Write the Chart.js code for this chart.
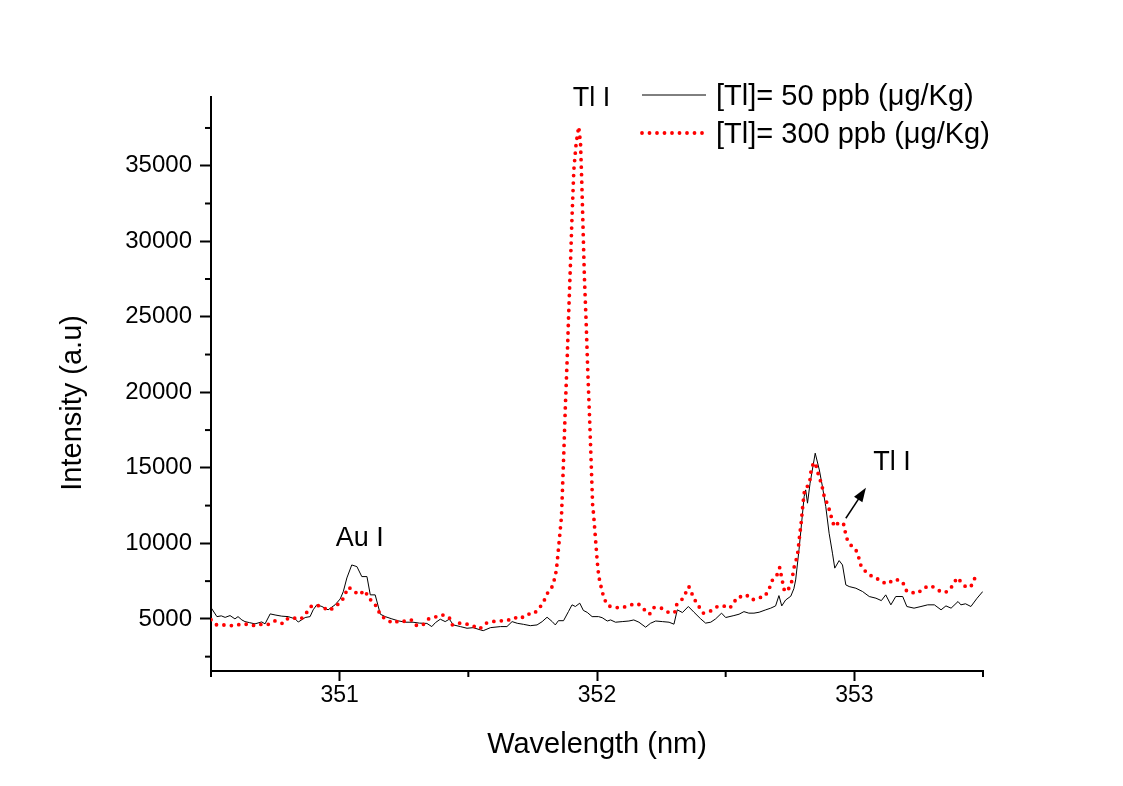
<!DOCTYPE html>
<html>
<head>
<meta charset="utf-8">
<script src="https://cdn.jsdelivr.net/npm/chart.js@4"></script>
<style>
  html, body { margin: 0; padding: 0; background: #fff; }
  canvas { display: block; }
</style>
</head>
<body>
<canvas id="chart" width="1123" height="786"></canvas>
<script>
/* globals Chart */

// [Tl]= 50 ppb, black solid line
var wl50 = [
  350.500, 350.523, 350.540, 350.555, 350.574, 350.593, 350.605, 350.620, 350.632, 350.650,
  350.671, 350.697, 350.710, 350.730, 350.749, 350.775, 350.800, 350.827, 350.839, 350.866,
  350.885, 350.897, 350.911, 350.931, 350.955, 350.982, 351.002, 351.014, 351.028, 351.047,
  351.067, 351.086, 351.106, 351.119, 351.138, 351.158, 351.177, 351.203, 351.228, 351.255,
  351.285, 351.310, 351.339, 351.358, 351.372, 351.391, 351.410, 351.426, 351.442, 351.469,
  351.495, 351.519, 351.547, 351.558, 351.586, 351.625, 351.650, 351.670, 351.690, 351.714,
  351.741, 351.767, 351.787, 351.806, 351.826, 351.838, 351.850, 351.870, 351.889, 351.903,
  351.916, 351.933, 351.947, 351.962, 351.981, 352.006, 352.020, 352.040, 352.053, 352.072,
  352.098, 352.124, 352.143, 352.163, 352.189, 352.208, 352.228, 352.254, 352.280, 352.299,
  352.312, 352.332, 352.355, 352.377, 352.403, 352.422, 352.442, 352.461, 352.484, 352.500,
  352.532, 352.552, 352.571, 352.590, 352.610, 352.630, 352.656, 352.675, 352.694, 352.707,
  352.718, 352.733, 352.753, 352.765, 352.772, 352.785, 352.795, 352.805, 352.811, 352.818,
  352.828, 352.848, 352.864, 352.876, 352.889, 352.902, 352.915, 352.924, 352.941, 352.954,
  352.967, 352.980, 353.006, 353.032, 353.058, 353.084, 353.105, 353.122, 353.142, 353.161,
  353.188, 353.204, 353.232, 353.259, 353.285, 353.311, 353.337, 353.356, 353.376, 353.403,
  353.414, 353.432, 353.453, 353.477, 353.499
]
var int50 = [
  5750, 5150, 5200, 5100, 5220, 5000, 5150, 4930, 4820, 4750,
  4670, 4800, 4670, 5330, 5260, 5180, 5150, 5000, 4790, 5090,
  5150, 5600, 5930, 5820, 5600, 5930, 6320, 6800, 7710, 8570,
  8460, 7800, 7800, 6590, 6590, 5310, 5150, 5000, 4870, 4780,
  4780, 4720, 4700, 4490, 4750, 4980, 4820, 4980, 4600, 4490,
  4380, 4420, 4270, 4220, 4420, 4490, 4490, 4820, 4710, 4640,
  4550, 4600, 4820, 5110, 4820, 4600, 4880, 4880, 5480, 5930,
  5820, 6040, 5560, 5430, 5150, 5150, 5080, 4860, 4930, 4780,
  4820, 4860, 4930, 4780, 4450, 4710, 4860, 4820, 4780, 4650,
  5600, 5420, 5820, 5440, 5000, 4720, 4780, 5000, 5380, 5090,
  5220, 5310, 5480, 5380, 5380, 5440, 5600, 5710, 5860, 6540,
  5860, 6250, 6500, 7000, 7580, 9570, 11340, 13100, 13540, 12660,
  13980, 15970, 14860, 13760, 12430, 10670, 9350, 8360, 8860, 8570,
  7250, 7140, 7030, 6810, 6480, 6370, 6210, 6590, 5930, 6480,
  6480, 5820, 5710, 5820, 5930, 5930, 5600, 5860, 5710, 6150,
  5930, 6000, 5820, 6370, 6810
]

// [Tl]= 300 ppb, red dotted line
var wl300 = [
  350.500, 350.522, 350.548, 350.574, 350.597, 350.617, 350.645, 350.674, 350.700, 350.723,
  350.749, 350.779, 350.800, 350.824, 350.850, 350.870, 350.889, 350.909, 350.935, 350.960,
  350.986, 351.009, 351.021, 351.034, 351.054, 351.073, 351.099, 351.112, 351.132, 351.145,
  351.158, 351.177, 351.207, 351.235, 351.259, 351.281, 351.300, 351.326, 351.346, 351.369,
  351.398, 351.426, 351.437, 351.462, 351.488, 351.514, 351.544, 351.570, 351.592, 351.622,
  351.651, 351.679, 351.702, 351.726, 351.754, 351.776, 351.793, 351.806, 351.826, 351.835,
  351.841, 351.845, 351.862, 351.871, 351.877, 351.884, 351.890, 351.897, 351.903, 351.910,
  351.919, 351.929, 351.936, 351.941, 351.946, 351.951, 351.958, 351.964, 351.971, 351.977,
  351.983, 351.987, 352.001, 352.007, 352.020, 352.030, 352.044, 352.072, 352.100, 352.130,
  352.160, 352.182, 352.204, 352.221, 352.250, 352.277, 352.302, 352.309, 352.329, 352.344,
  352.357, 352.368, 352.380, 352.396, 352.413, 352.442, 352.468, 352.491, 352.516, 352.532,
  352.545, 352.565, 352.580, 352.604, 352.627, 352.649, 352.666, 352.682, 352.697, 352.710,
  352.722, 352.729, 352.742, 352.755, 352.765, 352.774, 352.781, 352.787, 352.794, 352.800,
  352.807, 352.817, 352.826, 352.833, 352.843, 352.849, 352.858, 352.868, 352.877, 352.883,
  352.894, 352.903, 352.912, 352.922, 352.941, 352.958, 352.970, 352.989, 353.006, 353.016,
  353.025, 353.038, 353.058, 353.084, 353.103, 353.129, 353.155, 353.181, 353.191, 353.204,
  353.224, 353.246, 353.272, 353.298, 353.320, 353.343, 353.363, 353.382, 353.399, 353.414,
  353.434, 353.453, 353.466, 353.480
]
var int300 = [
  4950, 4600, 4600, 4560, 4560, 4660, 4640, 4540, 4660, 4640,
  4870, 4690, 5050, 5050, 5000, 5380, 5820, 5930, 5750, 5550,
  5860, 6190, 6640, 7100, 6880, 6590, 6880, 6370, 6110, 5750,
  5270, 5000, 4720, 4890, 4820, 4930, 4540, 4640, 5000, 5110,
  5270, 5090, 4600, 4720, 4680, 4560, 4340, 4720, 4820, 4870,
  4890, 5090, 5000, 5310, 5330, 5710, 6150, 6660, 7140, 7650,
  8130, 8690, 11770, 15970, 19050, 22140, 25240, 28550, 31630, 34720,
  36490, 37590, 36490, 33840, 30750, 27660, 24570, 21480, 18390, 15530,
  12550, 11880, 8790, 7800, 6810, 6260, 5860, 5750, 5750, 5930,
  6000, 5640, 5310, 5750, 5710, 5440, 5420, 5930, 6260, 6700,
  7140, 6700, 6260, 5820, 5380, 5530, 5820, 5860, 5710, 6080,
  6440, 6480, 6590, 6260, 6410, 6440, 6850, 7580, 7800, 8400,
  7360, 6810, 6920, 7320, 8360, 8900, 9460, 10450, 11440, 12550,
  13590, 13760, 13980, 14980, 15350, 15310, 14690, 14160, 13610, 13100,
  12660, 12220, 11660, 11110, 11400, 11290, 10340, 9830, 9570, 9130,
  8570, 8240, 7910, 7730, 7470, 7320, 7620, 7540, 7320, 6810,
  6740, 6700, 7070, 7200, 6960, 6740, 6810, 7200, 7730, 7470,
  7100, 7140, 7620, 8060
]

var seriesLabels = ['[Tl]= 50 ppb (\u03bcg/Kg)', '[Tl]= 300 ppb (\u03bcg/Kg)']

var xTicks = [351, 352, 353]
var xMinorTicks = [350.5, 351.5, 352.5, 353.5]
var yTicks = [5000, 10000, 15000, 20000, 25000, 30000, 35000]
var yMinorTicks = [2500, 7500, 12500, 17500, 22500, 27500, 32500, 37500]

// line labels, placed in data units
var peakLabels = [
  { text: 'Au I', x: 351.078, y: 10320 },
  { text: 'Tl I', x: 351.979, y: 39480 },
  { text: 'Tl I', x: 353.146, y: 15350 }
]
var arrowFrom = { x: 352.967, y: 11660 }
var arrowTo = { x: 353.045, y: 13680 }

var FONT = '"Liberation Sans", Arial, sans-serif'
Chart.defaults.font.family = FONT
Chart.defaults.color = '#000'

function toPoints(xs, ys) {
  return xs.map(function (x, i) { return { x: x, y: ys[i] } })
}

function strokeLine(ctx, x1, y1, x2, y2) {
  ctx.beginPath()
  ctx.moveTo(x1, y1)
  ctx.lineTo(x2, y2)
  ctx.stroke()
}

// minor ticks, y title, peak labels, arrow and the legend
const extras = {
  id: 'extras',
  afterDraw(chart) {
    const ctx = chart.ctx
    const xs = chart.scales.x
    const ys = chart.scales.y
    ctx.save()
    ctx.strokeStyle = '#000'
    ctx.lineWidth = 2
    xMinorTicks.forEach(function (v) {
      const px = xs.getPixelForValue(v)
      strokeLine(ctx, px, xs.top, px, xs.top + 6)
    })
    yMinorTicks.forEach(function (v) {
      const py = ys.getPixelForValue(v)
      strokeLine(ctx, ys.right - 6, py, ys.right, py)
    })

    ctx.fillStyle = '#000'

    // y axis title, a little below the middle as in the original
    ctx.save()
    ctx.translate(73, ys.getPixelForValue(19300))
    ctx.rotate(-Math.PI / 2)
    ctx.font = '29px ' + FONT
    ctx.textAlign = 'center'
    ctx.textBaseline = 'middle'
    ctx.fillText('Intensity (a.u)', 0, 0)
    ctx.restore()

    ctx.font = '27px ' + FONT
    ctx.textAlign = 'center'
    ctx.textBaseline = 'middle'
    peakLabels.forEach(function (p) {
      ctx.fillText(p.text, xs.getPixelForValue(p.x), ys.getPixelForValue(p.y))
    })

    // arrow
    const ax = xs.getPixelForValue(arrowFrom.x), ay = ys.getPixelForValue(arrowFrom.y)
    const bx = xs.getPixelForValue(arrowTo.x), by = ys.getPixelForValue(arrowTo.y)
    const ang = Math.atan2(by - ay, bx - ax)
    ctx.lineWidth = 1.5
    strokeLine(ctx, ax, ay, bx - 10 * Math.cos(ang), by - 10 * Math.sin(ang))
    ctx.beginPath()
    ctx.moveTo(bx, by)
    ctx.lineTo(bx - 14 * Math.cos(ang) + 5 * Math.sin(ang), by - 14 * Math.sin(ang) - 5 * Math.cos(ang))
    ctx.lineTo(bx - 14 * Math.cos(ang) - 5 * Math.sin(ang), by - 14 * Math.sin(ang) + 5 * Math.cos(ang))
    ctx.closePath()
    ctx.fill()

    // legend
    const rows = [95, 133]
    chart.data.datasets.forEach(function (ds, i) {
      const y = rows[i]
      ctx.save()
      ctx.strokeStyle = ds.borderColor
      ctx.lineWidth = ds.borderWidth
      ctx.lineCap = ds.borderCapStyle || 'butt'
      ctx.setLineDash(ds.borderDash || [])
      strokeLine(ctx, 642, y, 706, y)
      ctx.restore()
      ctx.textAlign = 'left'
      ctx.font = '29px ' + FONT
      ctx.fillText(ds.label, 716, y + 2)
    })
    ctx.restore()
  }
}

var config = {
  type: 'line',
  data: {
    datasets: [
      {
        label: seriesLabels[0],
        data: toPoints(wl50, int50),
        borderColor: '#000000',
        borderWidth: 1,
        pointRadius: 0,
        tension: 0,
        order: 1
      },
      {
        label: seriesLabels[1],
        data: toPoints(wl300, int300),
        borderColor: '#ff0000',
        borderWidth: 3.8,
        borderDash: [0, 7.5],
        borderCapStyle: 'round',
        pointRadius: 0,
        tension: 0,
        order: 0
      }
    ]
  },
  plugins: [extras],
  options: {
    responsive: false,
    animation: false,
    layout: { padding: { top: 97, right: 140, bottom: 0, left: 0 } },
    plugins: {
      legend: { display: false },
      tooltip: { enabled: false }
    },
    scales: {
      x: {
        type: 'linear',
        min: 350.5,
        max: 353.5,
        afterFit: function (s) { s.height = 115 },
        afterBuildTicks: function (s) { s.ticks = xTicks.map(function (v) { return { value: v } }) },
        ticks: {
          autoSkip: false,
          maxRotation: 0,
          padding: 1,
          font: { size: 23 },
          callback: function (v) { return String(v) }
        },
        grid: { drawOnChartArea: false, tickLength: 10, tickWidth: 2, tickColor: '#000' },
        border: { color: '#000', width: 2 },
        title: {
          display: true,
          text: 'Wavelength (nm)',
          font: { size: 29 },
          padding: { top: 0, bottom: 24 }
        }
      },
      y: {
        type: 'linear',
        min: 1550,
        max: 39550,
        afterFit: function (s) { s.width = 211 },
        afterBuildTicks: function (s) { s.ticks = yTicks.map(function (v) { return { value: v } }) },
        ticks: {
          autoSkip: false,
          padding: 8,
          font: { size: 24 },
          callback: function (v) { return String(v) }
        },
        grid: { drawOnChartArea: false, tickLength: 11, tickWidth: 2, tickColor: '#000' },
        border: { color: '#000', width: 2 }
      }
    }
  }
}

var chart = new Chart(document.getElementById('chart'), config)
</script>
</body>
</html>
